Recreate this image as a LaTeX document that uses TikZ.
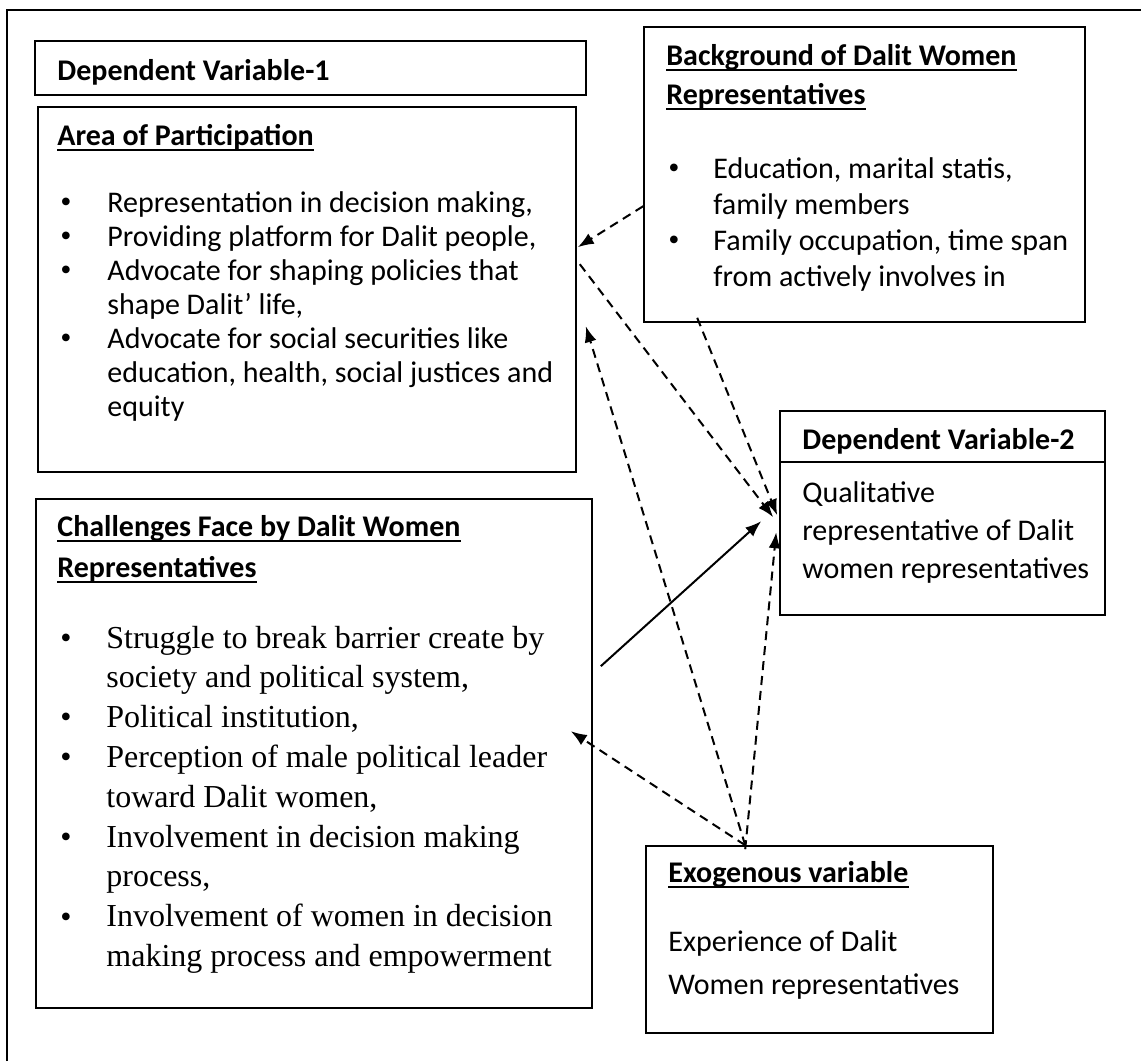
\documentclass[tikz,border=0pt]{standalone}
\usepackage{fontspec}
\setmainfont{Carlito}
\newfontfamily\tnrfont{Liberation Serif}
\usetikzlibrary{arrows.meta,calc,fit}

\begin{document}
\begin{tikzpicture}[x=0.5pt, y={(0pt,-0.5pt)}, >={Latex[length=8pt,width=6pt]},
	box/.style={draw, line width=0.8pt, inner sep=0pt},
	txt/.style={anchor=base west, inner sep=0pt, font=\fontsize{15}{18}\selectfont},
	ttl/.style={txt, font=\fontsize{15}{18}\selectfont\bfseries},
	tms/.style={anchor=base west, inner sep=0pt, font=\fontsize{16}{19}\tnrfont},
	blt/.style={anchor=base west, inner sep=0pt, font=\fontsize{16}{19}\tnrfont},
	dep/.style={->, line width=1pt, dash pattern=on 4.5pt off 3pt}]
	\useasboundingbox (0,0) rectangle (1141,1061);
	\draw[line width=1.2pt] (7,1061) -- (7,10) -- (1141,10);

	% boxes
	\node[box, fit={(35,41) (586,95)}] (dv1) {};
	\node[box, fit={(38,107) (576,472)}] (area) {};
	\node[box, fit={(644,27) (1085,322)}] (bg) {};
	\node[box, fit={(780,411) (1105,615)}] (dv2) {};
	\node[box, fit={(36,499) (592,1008)}] (ch) {};
	\node[box, fit={(646,846) (993,1033)}] (exo) {};
	\draw[line width=0.8pt] ($(dv2.north west)+(0,52)$) -- ($(dv2.north east)+(0,52)$);

	% titles
	\node[ttl] (dv1t) at (57,80) {Dependent Variable-1};
	\node[ttl] (aopt) at (57,145) {Area of Participation};
	\node[ttl] (bgt1) at (666,65) {Background of Dalit Women};
	\node[ttl] (bgt2) at (666,104) {Representatives};
	\node[ttl] (dv2t) at (802,449) {Dependent Variable-2};
	\node[ttl] (cht1) at (57,536) {Challenges Face by Dalit Women};
	\node[ttl] (cht2) at (57,577) {Representatives};
	\node[ttl] (exot) at (668,882) {Exogenous variable};
	\foreach \n in {aopt,bgt1,bgt2,cht1,cht2,exot}
		\draw[line width=1pt] ($(\n.base west)+(0,5)$) -- ($(\n.base east)+(0,5)$);

	% area of participation
	\foreach \y in {212,246,280,348} \node[blt] (ab\y) at (60,\y) {\textbullet};
	\foreach \t [count=\i from 0] in {{Representation in decision making,},
		{Providing platform for Dalit people,}, {Advocate for shaping policies that},
		{shape Dalit’ life,}, {Advocate for social securities like},
		{education, health, social justices and}, {equity}}
		\node[txt] (al\i) at (107,{212+34*\i}) {\t};

	% background
	\foreach \y in {178,250} \node[blt] (bb\y) at (668,\y) {\textbullet};
	\foreach \t [count=\i from 0] in {{Education, marital statis,}, {family members},
		{Family occupation, time span}, {from actively involves in}}
		\node[txt] (bl\i) at (713,{178+36*\i}) {\t};

	% dependent variable 2
	\foreach \t [count=\i from 0] in {Qualitative, {representative of Dalit},
		{women representatives}}
		\node[txt] (dl\i) at (802,{502+38*\i}) {\t};

	% challenges
	\foreach \y in {648,727,767,847,927} \node[blt] (cb\y) at (60,\y) {\textbullet};
	\foreach \t [count=\i from 0] in {{Struggle to break barrier create by},
		{society and political system,}, {Political institution,},
		{Perception of male political leader}, {toward Dalit women,},
		{Involvement in decision making}, {process,},
		{Involvement of women in decision}, {making process and empowerment}}
		\node[tms] (cl\i) at (106,{648+39.8*\i}) {\t};

	% exogenous
	\node[txt] (el0) at (668,951) {Experience of Dalit};
	\node[txt] (el1) at (668,994) {Women representatives};

	% connectors
	\draw[dep] ($(bg.north west)+(0,180)$) -- ($(area.north east)+(1,141)$);
	\draw[dep] ($(area.north east)+(3,158)$) -- ($(dv2.north west)+(-6,107)$);
	\draw[dep] ($(bg.south west)+(54,-5)$) -- ($(dv2.north west)+(-2,105)$);
	\draw[->, line width=1pt] ($(ch.north east)+(8,168)$) -- ($(dv2.north west)+(-18,111)$);
	\draw[dep] ($(exo.north west)+(100,4)$) -- ($(dv2.north west)+(-3,122)$);
	\draw[dep] ($(exo.north west)+(100,0)$) -- ($(area.north east)+(9,220)$);
	\draw[dep] ($(exo.north west)+(100,0)$) -- ($(ch.north east)+(-22,233)$);
\end{tikzpicture}
\end{document}
